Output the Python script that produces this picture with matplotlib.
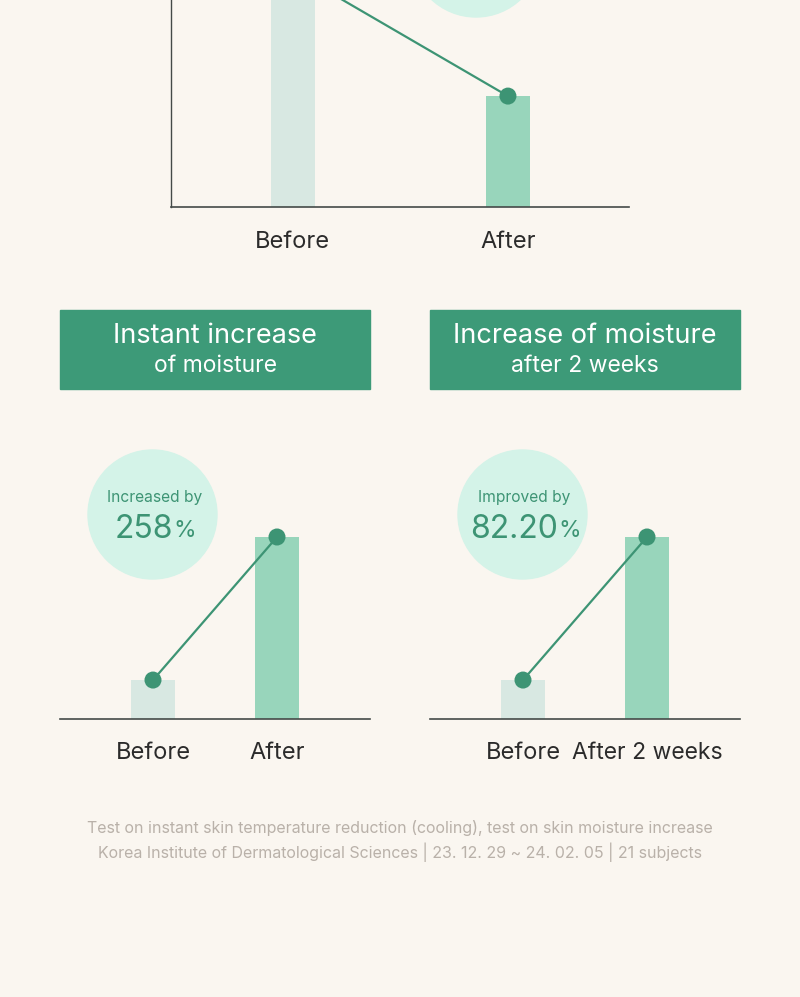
import matplotlib
matplotlib.use("Agg")
import matplotlib.pyplot as plt
from matplotlib.patches import Circle, Rectangle

plt.rcParams['font.family'] = ['Inter', 'DejaVu Sans']

# ---------------- data ----------------
top_categories = ["Before", "After"]
top_values = [100, 47]

left_title = ["Instant increase", "of moisture"]
left_categories = ["Before", "After"]
left_values = [21.4, 100]
left_badge_label = "Increased by"
left_badge_value = "258"

right_title = ["Increase of moisture", "after 2 weeks"]
right_categories = ["Before", "After 2 weeks"]
right_values = [21.4, 100]
right_badge_label = "Improved by"
right_badge_value = "82.20"

footnote = ["Test on instant skin temperature reduction (cooling), test on skin moisture increase",
            "Korea Institute of Dermatological Sciences | 23. 12. 29 ~ 24. 02. 05 | 21 subjects"]

# ---------------- style ----------------
BG = "#faf6f0"
BEFORE_C = "#d8e8e2"
AFTER_C = "#98d5bb"
LINE_C = "#3d9474"
CIRCLE_C = "#d4f3e8"
HEADER_C = "#3d9a78"
TEXT_C = "#2b2b2b"
AXIS_C = "#444a48"
FOOT_C = "#b9b1a9"

W, H = 800, 997
fig = plt.figure(figsize=(W / 100, H / 100), dpi=100, facecolor=BG)

# overlay axes in pixel coordinates (y downward)
ov = fig.add_axes([0, 0, 1, 1], zorder=0)
ov.set_xlim(0, W)
ov.set_ylim(H, 0)
ov.axis("off")
ov.set_facecolor(BG)


def px_axes(x0, x1, ybase, ytop, zorder=2):
    """axes whose rectangle is given in pixel coordinates (top-down)."""
    ax = fig.add_axes([x0 / W, (H - ybase) / H, (x1 - x0) / W, (ybase - ytop) / H], zorder=zorder)
    ax.patch.set_alpha(0)
    return ax


def draw_bars(ax, cats, vals, xlim, width, fs, pad):
    xs = list(range(len(cats)))
    ax.bar(xs, vals, width=width, color=[BEFORE_C, AFTER_C], zorder=2, clip_on=False)
    ax.plot(xs, vals, color=LINE_C, lw=1.6, zorder=3, clip_on=False)
    ax.scatter(xs, vals, s=150, color=LINE_C, zorder=4, clip_on=False, edgecolors="none")
    ax.set_xlim(*xlim)
    ax.set_ylim(0, 100)
    ax.set_xticks(xs)
    ax.set_xticklabels(cats, fontsize=fs, color=TEXT_C)
    ax.tick_params(axis="x", length=0, pad=pad)
    ax.set_yticks([])
    for s in ["top", "right"]:
        ax.spines[s].set_visible(False)
    ax.spines["bottom"].set_color(AXIS_C)
    ax.spines["bottom"].set_linewidth(1.2)


# ---------------- top chart (cropped) ----------------
ax_top = px_axes(171, 629, 207, -29)
draw_bars(ax_top, top_categories, top_values, (-0.567, 1.563), 0.205, 17, 17.5)
ax_top.spines["left"].set_color(AXIS_C)
ax_top.spines["left"].set_linewidth(1.0)
ov.add_patch(Circle((476, -48), 65, color=CIRCLE_C, zorder=1))

# ---------------- bottom charts ----------------
renderer = fig.canvas.get_renderer()


def badge(cx, cy, label, value):
    ov.add_patch(Circle((cx, cy), 64.5, color=CIRCLE_C, zorder=1))
    ov.text(cx + 2, 497, label, fontsize=11.2, color=LINE_C, ha="center", va="center", zorder=2)
    t1 = ov.text(0, 529, value, fontsize=23, color=LINE_C, ha="left", va="center", zorder=2)
    t2 = ov.text(0, 531, "%", fontsize=16.5, color=LINE_C, ha="left", va="center", zorder=2)
    w1 = t1.get_window_extent(renderer).width
    w2 = t2.get_window_extent(renderer).width
    gap = 0
    start = cx + 3 - (w1 + w2 + gap) / 2
    t1.set_x(start)
    t2.set_x(start + w1 + gap)


def header(x0, x1, lines):
    ov.add_patch(Rectangle((x0, 310), x1 - x0, 79, color=HEADER_C, zorder=1))
    cx = (x0 + x1) / 2
    ov.text(cx, 336, lines[0], fontsize=19.5, color="white", ha="center", va="center", zorder=2)
    ov.text(cx, 366, lines[1], fontsize=16.5, color="white", ha="center", va="center", zorder=2)


header(60, 370, left_title)
header(430, 740, right_title)
badge(152.5, 514.5, left_badge_label, left_badge_value)
badge(522.5, 514.5, right_badge_label, right_badge_value)

ax_l = px_axes(60, 370, 719, 537)
draw_bars(ax_l, left_categories, left_values, (-0.75, 1.75), 0.355, 17, 16.5)
ax_l.spines["left"].set_visible(False)

ax_r = px_axes(430, 740, 719, 537)
draw_bars(ax_r, right_categories, right_values, (-0.75, 1.75), 0.355, 17, 16.5)
ax_r.spines["left"].set_visible(False)
for lbl in ax_r.get_xticklabels()[1:]:
    lbl.set_fontsize(16.5)

# ---------------- footnote ----------------
ov.text(400, 828, footnote[0], fontsize=11.5, color=FOOT_C, ha="center", va="center")
ov.text(400, 852, footnote[1], fontsize=11.5, color=FOOT_C, ha="center", va="center")

fig.savefig("out.png", dpi=100, facecolor=BG)
